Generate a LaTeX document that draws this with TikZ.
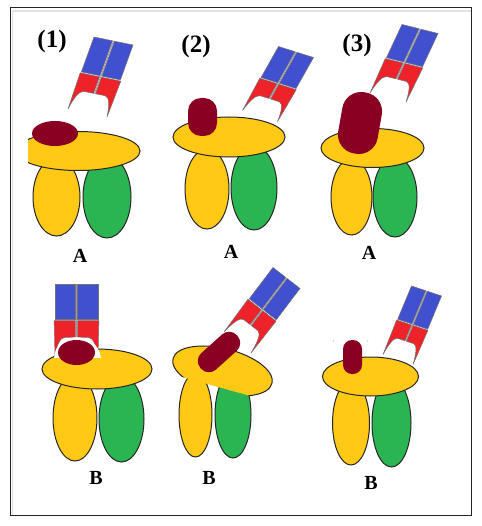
\documentclass[tikz,border=0pt]{standalone}
\usepackage{fontspec}
\setmainfont{Liberation Serif}
\definecolor{goldarm}{HTML}{FFC915}
\definecolor{greenarm}{HTML}{2BB452}
\definecolor{maroonbody}{HTML}{8A0022}
\definecolor{bluepart}{HTML}{4150CE}
\definecolor{redpart}{HTML}{EE2229}
\definecolor{framegrey}{HTML}{E2E2E2}
\tikzset{
  goldshape/.style={fill=goldarm,draw=black!85,line width=1pt},
  greenshape/.style={fill=greenarm,draw=black!85,line width=1pt},
  bluecell/.style={fill=bluepart,draw=black!55,line width=0.5pt},
  redcell/.style={fill=redpart,draw=black!55,line width=0.5pt},
  hingeline/.style={draw=black!40,line width=0.9pt},
  cargo/.style={fill=maroonbody},
  panellabel/.style={font=\bfseries\fontsize{25}{25}\selectfont,inner sep=0pt},
  caselabel/.style={font=\bfseries\fontsize{20}{20}\selectfont,inner sep=0pt},
}
% Ellipse: centre x, centre y, x radius, y radius, style
\newcommand{\blob}[5]{\path[#5] (#1,#2) ellipse [x radius=#3pt,y radius=#4pt];}
% Two-lobed binding fragment: top centre, half-width vector, axis vector
\newcommand{\fragment}[6]{%
  \begin{scope}[shift={(#1,#2)},x={(#3pt,-#4pt)},y={(#5pt,-#6pt)}]
    \path[bluecell] (-1,0) -- (-0.05,0) -- (-0.05,0.485) -- (-1,0.485) -- cycle;
    \path[bluecell] (0.05,0) -- (1,0) -- (1,0.485) -- (0.05,0.485) -- cycle;
    \path[redcell] (-1.04,0.5) -- (-0.05,0.5) -- (-0.05,0.73) -- (-0.55,0.73)
      .. controls (-0.78,0.74) and (-0.92,0.84) .. (-1,1) -- cycle;
    \path[redcell] (1.04,0.5) -- (0.05,0.5) -- (0.05,0.73) -- (0.55,0.73)
      .. controls (0.78,0.74) and (0.92,0.84) .. (1,1) -- cycle;
    \path[hingeline] (0,0) -- (0,0.73);
  \end{scope}}
\begin{document}
\begin{tikzpicture}[x=1pt,y=-1pt]
\useasboundingbox (0,0) rectangle (481,526);
\fill[white] (0,0) rectangle (481,526);

% Frame
\draw[framegrey,line width=1.6pt] (12.5,515) -- (12.5,11) -- (470.5,11);
\draw[black!85,line width=0.9pt] (10.5,7.5) rectangle (471,515);

% Panel (1) A
\blob{56.5}{197}{23.5}{39}{goldshape}
\blob{107}{197}{24}{41}{greenshape}
\begin{scope}
  \clip (28,120) rectangle (150,180);
  \blob{78}{151}{62}{19.5}{goldshape}
\end{scope}
\fragment{113.5}{41}{19.5}{4}{-26}{72}
\blob{55}{133.5}{23}{12.5}{cargo}

% Panel (2) A
\blob{207}{189}{22}{40}{goldshape}
\blob{254}{188}{23}{42}{greenshape}
\blob{229}{137}{56}{20}{goldshape}
\fragment{296}{52}{17.5}{5.5}{-36}{64}
\fill[cargo,rounded corners=13pt] (188,98) rectangle (217,136);

% Panel (3) A
\blob{351.5}{197}{20.5}{38}{goldshape}
\blob{395}{197}{22}{40}{greenshape}
\blob{372.5}{148}{51.5}{19.5}{goldshape}
\fragment{420}{29}{18}{4.5}{-32}{68.5}
\begin{scope}[shift={(360,123)},rotate=-10]
  \fill[cargo,rounded corners=19pt] (-20,-31) rectangle (20,31);
\end{scope}

% Panel (1) B
\blob{75}{418}{22}{43}{goldshape}
\blob{121.5}{419}{22.5}{43}{greenshape}
\blob{97}{369}{55}{20}{goldshape}
\fragment{76.5}{284}{21.5}{0}{0}{73}
\fill[white,draw=white,line width=1.5pt] (55,357)
  .. controls (56,344) and (66,338) .. (76.5,338)
  .. controls (87,338) and (98,344) .. (100,357) -- cycle;
\blob{76.5}{352.5}{18.5}{12.5}{cargo}

% Panel (2) B: the platform's lower edge is cut straight over the arms
\blob{195.5}{415}{16.5}{42}{goldshape}
\blob{233}{415}{18}{43}{greenshape}
\begin{scope}
  \clip (150,368) -- (290,407) -- (290,320) -- (150,320) -- cycle;
  \path[goldshape] (222.5,371) ellipse [x radius=51pt,y radius=22.4pt,rotate=-14];
\end{scope}
\fragment{286.5}{278}{13.5}{10.5}{-49}{64.5}
\begin{scope}[shift={(219,352)},rotate=42]
  \fill[cargo,rounded corners=10.5pt] (-24.5,-11) rectangle (24.5,11);
\end{scope}

% Panel (3) B
\blob{351}{423}{18.5}{42}{goldshape}
\blob{391.5}{423}{19.5}{44}{greenshape}
\blob{370.5}{376.5}{48}{19.5}{goldshape}
\fragment{426.5}{291}{15}{5}{-28.5}{68.5}
\fill[cargo,rounded corners=9pt] (343,340) rectangle (362,374);
\fill[black!35] (333.5,341) circle [radius=0.6pt];
\fill[black!35] (367.7,341) circle [radius=0.6pt];

% Labels
\node[panellabel] (n1) at (52,41) {(1)};
\node[panellabel] (n2) at (196,46) {(2)};
\node[panellabel] (n3) at (357,45) {(3)};
\node[caselabel] (a1) at (80,256) {A};
\node[caselabel] (a2) at (231,252) {A};
\node[caselabel] (a3) at (369,253) {A};
\node[caselabel] (b1) at (96,478) {B};
\node[caselabel] (b2) at (209,478) {B};
\node[caselabel] (b3) at (371,483) {B};
\end{tikzpicture}
\end{document}
